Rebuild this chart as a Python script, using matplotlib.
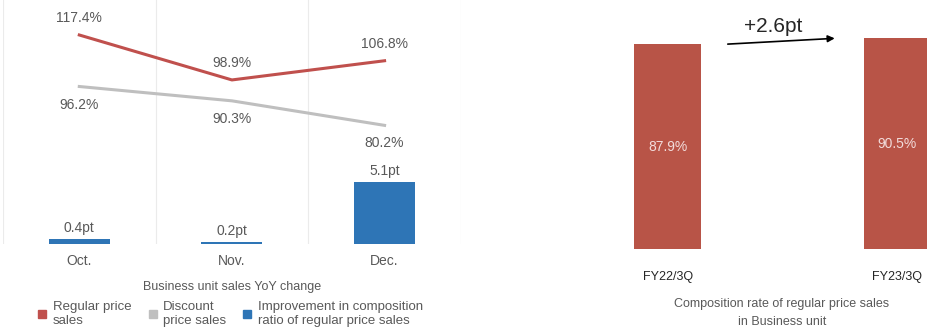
import numpy as np
import matplotlib.pyplot as plt
from matplotlib.lines import Line2D

plt.rcParams['font.family'] = ['Liberation Sans', 'DejaVu Sans']

# =========================
# data
# =========================
months = ["Oct.", "Nov.", "Dec."]
regular_yoy = [117.4, 98.9, 106.8]
discount_yoy = [96.2, 90.3, 80.2]
improve_pt = [0.4, 0.2, 5.1]

periods = ["FY22/3Q", "FY23/3Q"]
regular_rate = [87.9, 90.5]
rate_change = "+2.6pt"

RED = "#C0504D"
BAR_RED = "#B85447"
GRAY = "#BFBFBF"
BLUE = "#2E75B6"
TXT = "#595959"

fig = plt.figure(figsize=(9.27, 3.31), dpi=100)

# =========================
# left: YoY change
# =========================
ax_bar = fig.add_axes([0.0032, 0.263, 0.494, 0.737])
ax_line = ax_bar.twinx()

x = np.arange(len(months)) + 0.5
ax_bar.bar(x, improve_pt, width=0.4, color=BLUE, zorder=2)
ax_bar.set_ylim(0, 20)
ax_bar.set_xlim(0, 3)
for xv in range(4):
    ax_bar.axvline(xv, color="#EBEBEB", lw=0.8, zorder=0)
for xi, v in zip(x, improve_pt):
    ax_bar.text(xi, v + 0.3, f"{v}pt", ha="center", va="bottom", fontsize=10, color=TXT)

ax_line.plot(x, regular_yoy, color=RED, lw=2.2)
ax_line.plot(x, discount_yoy, color=GRAY, lw=2.2)
ax_line.set_ylim(31.4, 131.8)
for xi, v in zip(x, regular_yoy):
    ax_line.annotate(f"{v}%", (xi, v), xytext=(0, 7), textcoords="offset points",
                     ha="center", va="bottom", fontsize=10, color=TXT)
for xi, v in zip(x, discount_yoy):
    ax_line.annotate(f"{v}%", (xi, v), xytext=(0, -8), textcoords="offset points",
                     ha="center", va="top", fontsize=10, color=TXT)

ax_bar.set_xticks(x)
ax_bar.set_xticklabels(months, fontsize=10, color=TXT)
ax_bar.tick_params(axis="x", length=0, pad=7)
ax_bar.set_yticks([])
ax_line.set_yticks([])
for a in (ax_bar, ax_line):
    for s in a.spines.values():
        s.set_visible(False)

fig.text(232 / 927, 1 - 287 / 331, "Business unit sales YoY change",
         ha="center", va="center", fontsize=9, color=TXT)

handles = [
    Line2D([], [], marker="s", ls="none", color=RED, markersize=6),
    Line2D([], [], marker="s", ls="none", color=GRAY, markersize=6),
    Line2D([], [], marker="s", ls="none", color=BLUE, markersize=6),
]
labels = ["Regular price\nsales", "Discount\nprice sales",
          "Improvement in composition\nratio of regular price sales"]
fig.legend(handles, labels, loc="center", bbox_to_anchor=(230 / 927, 1 - 314 / 331),
           ncol=3, frameon=False, fontsize=9.5, handlelength=0.8, handletextpad=0.4,
           columnspacing=1.2, labelcolor=TXT, labelspacing=0.2)

# =========================
# right: composition rate
# =========================
ax2 = fig.add_axes([470 / 927, 82 / 331, 457 / 927, 249 / 331])
xp = np.arange(len(periods))
ax2.bar(xp, regular_rate, width=0.292, color=BAR_RED)
for xi, v in zip(xp, regular_rate):
    ax2.text(xi, v / 2, f"{v}%", ha="center", va="center", fontsize=10, color="#F2DCDB")
ax2.set_xlim(-0.861, 1.13)
ax2.set_ylim(0, 106.9)
ax2.set_xticks(xp)
ax2.set_xticklabels(periods, fontsize=9, color="#262626")
ax2.tick_params(axis="x", length=0, pad=16)
ax2.set_yticks([])
for s in ax2.spines.values():
    s.set_visible(False)

ax2.annotate("", xy=(0.74, regular_rate[1]), xytext=(0.25, regular_rate[0]),
             arrowprops=dict(arrowstyle="-|>", color="black", lw=1.2, mutation_scale=10))
ax2.text(0.46, 95.7, rate_change, ha="center", va="center", fontsize=15, color="#262626")

fig.text(782 / 927, 1 - 313 / 331, "Composition rate of regular price sales\nin Business unit",
         ha="center", va="center", fontsize=9, color=TXT, linespacing=1.6)

fig.savefig("out.png", dpi=100)
